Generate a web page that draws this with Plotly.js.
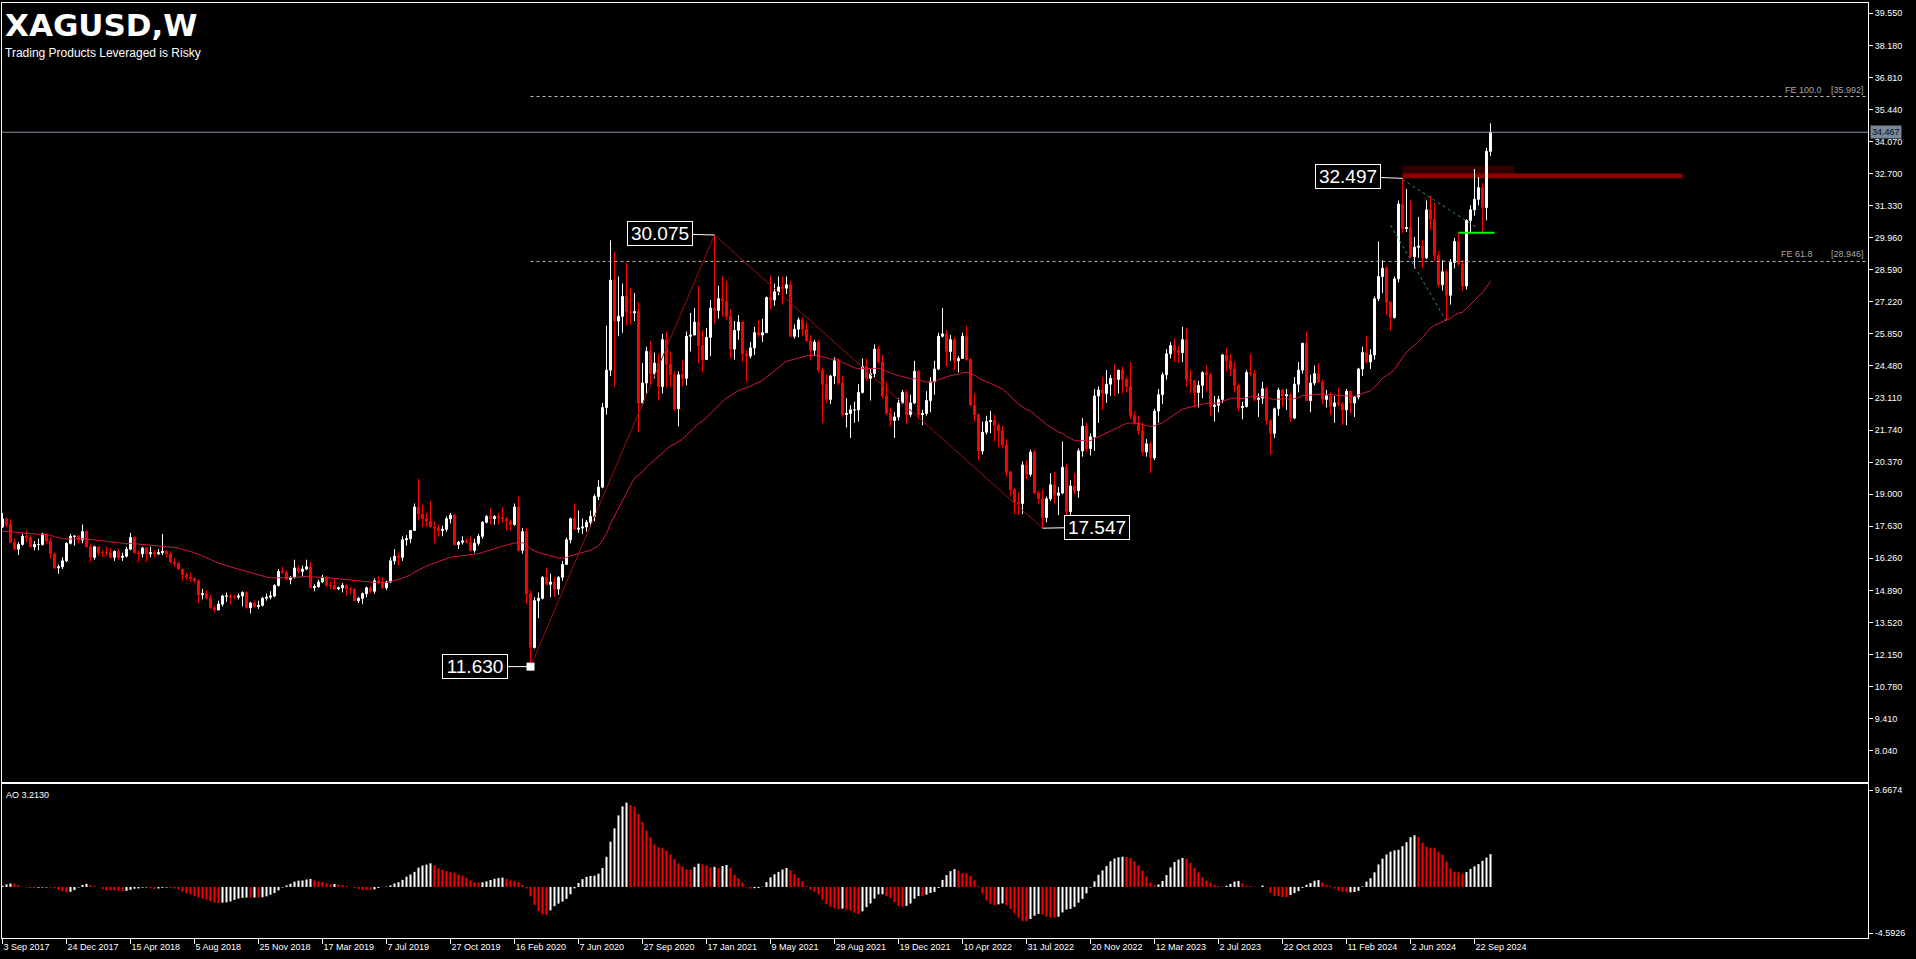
<!DOCTYPE html>
<html><head><meta charset="utf-8">
<script src="https://cdn.plot.ly/plotly-3.0.1.min.js"></script>
<style>html,body{margin:0;padding:0;background:#000;overflow:hidden}#chart{width:1916px;height:959px}</style>
</head><body><div id="chart"></div>
<script>
// ---------------- DATA ----------------
const symbolTitle = "XAGUSD,W";
const subtitleText = "Trading Products Leveraged is Risky";
const tickLabels = ["3 Sep 2017","24 Dec 2017","15 Apr 2018","5 Aug 2018","25 Nov 2018","17 Mar 2019","7 Jul 2019","27 Oct 2019","16 Feb 2020","7 Jun 2020","27 Sep 2020","17 Jan 2021","9 May 2021","29 Aug 2021","19 Dec 2021","10 Apr 2022","31 Jul 2022","20 Nov 2022","12 Mar 2023","2 Jul 2023","22 Oct 2023","11 Feb 2024","2 Jun 2024","22 Sep 2024"];
const weeksPerLabel = 16;

// weekly closes of the 50 weeks before the first visible bar (warm-up for MA / AO)
const preCloses = [19.75,19.15,17.30,17.40,17.50,17.60,18.40,18.30,16.60,16.50,
16.70,16.90,16.00,15.90,15.90,16.50,16.80,16.90,17.20,17.50,
17.60,18.00,18.30,17.70,17.00,17.40,17.60,18.20,18.00,18.50,
17.90,17.80,16.30,16.30,16.90,17.40,17.50,16.90,16.70,16.70,
16.60,15.40,15.90,16.30,16.60,16.20,17.00,17.00,17.00,17.60];

const closes = [
17.95,17.70,16.95,16.65,16.85,17.20,17.15,16.75,16.85,16.85,
17.30,17.00,16.45,15.85,15.90,16.15,16.90,17.20,17.20,17.05,
17.40,16.75,16.30,16.75,16.50,16.50,16.50,16.30,16.55,16.30,
16.35,16.65,17.15,16.50,16.45,16.70,16.45,16.50,16.45,16.50,
16.55,16.45,16.10,16.05,15.80,15.55,15.45,15.40,15.30,14.70,
14.75,14.55,14.15,14.05,14.30,14.65,14.65,14.60,14.60,14.65,
14.80,14.15,14.35,14.20,14.25,14.55,14.60,14.65,15.10,15.70,
15.65,15.35,15.45,15.85,15.70,15.80,15.90,15.00,15.05,15.25,
15.45,15.10,15.10,14.95,15.00,15.10,14.95,14.95,14.45,14.55,
14.75,15.00,14.85,15.30,15.25,15.00,15.25,16.15,16.35,16.30,
17.05,17.10,17.45,18.45,18.15,17.95,17.85,17.60,17.55,17.45,
17.50,17.95,18.10,16.85,16.95,17.00,16.95,16.60,16.90,17.20,
17.80,18.05,17.95,18.05,18.00,17.95,17.85,17.70,18.45,16.60,
17.40,14.75,12.45,14.45,14.55,15.45,15.15,15.25,14.95,15.45,
16.00,17.05,17.95,17.50,17.55,17.60,17.80,18.05,18.90,19.30,
22.70,24.30,28.15,26.40,26.60,27.45,26.80,26.75,26.80,22.90,
23.75,25.10,24.15,24.60,23.60,25.60,24.55,24.10,22.65,24.10,
23.95,25.75,25.80,26.35,25.35,24.75,25.70,26.95,26.85,27.35,
27.25,26.60,25.20,26.00,26.35,25.00,24.90,25.25,25.90,25.80,
25.90,27.40,27.30,27.65,27.85,27.80,27.95,25.75,26.05,26.45,
26.05,25.55,25.15,25.50,24.30,23.70,23.05,24.05,24.70,23.75,
22.40,22.45,22.60,22.60,23.35,24.45,23.95,24.15,25.20,24.65,
23.20,22.45,22.15,22.30,22.90,23.35,22.40,22.90,24.25,22.40,
22.45,23.00,23.80,24.35,25.75,25.85,25.10,25.60,24.70,24.80,
25.75,24.75,22.80,22.40,20.85,21.65,22.10,22.15,21.95,21.70,
21.10,19.95,19.20,18.65,18.60,20.25,19.85,20.80,19.05,18.80,
18.00,18.80,19.40,18.95,19.05,20.15,18.25,19.35,19.15,20.85,
21.90,20.95,21.45,23.20,23.45,23.30,23.70,23.95,23.90,24.30,
23.90,23.60,22.35,22.05,21.70,20.80,21.15,20.55,22.55,23.25,
24.10,25.00,25.35,25.15,25.05,25.60,23.90,23.85,23.35,23.65,
24.20,24.10,22.75,22.80,23.05,24.95,24.70,24.35,23.65,22.70,
22.75,24.20,24.15,23.05,23.10,23.50,22.15,21.60,22.65,23.45,
23.20,23.25,22.25,23.70,24.30,25.45,23.00,23.75,24.15,23.80,
23.05,23.20,22.75,22.90,22.85,22.60,23.40,22.90,23.15,24.35,
25.05,24.65,24.95,27.35,28.30,28.65,27.20,26.55,28.20,31.40,
30.35,30.40,29.15,29.55,29.60,29.10,31.15,30.75,29.20,27.95,
28.50,27.50,28.90,29.80,28.85,27.90,30.70,31.15,31.60,32.10,
31.25,33.65,34.467];

const highs = [
18.20,18.00,17.90,17.10,16.95,17.30,17.45,17.25,17.00,17.10,
17.35,17.25,17.15,16.50,16.00,16.30,16.95,17.30,17.25,17.25,
17.70,17.45,16.90,16.80,16.75,16.60,16.75,16.70,16.60,16.65,
16.50,16.75,17.35,17.20,16.60,16.75,16.75,16.75,16.60,16.65,
17.30,16.60,16.55,16.25,16.10,15.80,15.65,15.65,15.45,15.35,
14.95,14.90,14.70,14.25,14.45,14.70,14.80,14.75,14.70,14.75,
14.85,14.85,14.40,14.45,14.45,14.60,14.75,14.85,15.15,15.80,
15.90,15.75,15.50,16.20,15.95,15.95,16.20,16.10,15.15,15.35,
15.55,15.50,15.25,15.35,15.05,15.20,15.15,15.05,14.95,14.60,
14.80,15.05,15.10,15.40,15.50,15.45,15.30,16.30,16.65,16.50,
17.20,17.25,17.45,18.60,19.65,18.55,18.20,18.70,17.85,17.70,
17.65,18.05,18.20,18.15,17.00,17.20,17.10,17.20,17.10,17.30,
17.85,18.10,18.40,18.10,18.20,18.45,18.00,17.90,18.60,18.90,
17.55,17.55,14.90,14.60,14.80,15.50,15.85,15.60,15.45,15.50,
16.15,17.15,18.00,18.60,18.30,17.95,17.90,18.30,19.00,19.60,
22.90,26.20,29.85,29.35,28.30,28.00,28.90,27.80,27.60,27.20,
24.60,25.30,25.55,25.05,25.00,25.85,25.95,25.10,24.25,24.25,
24.75,25.95,26.75,26.95,27.90,26.00,26.10,27.30,30.075,27.90,
28.30,28.10,26.90,26.40,26.65,26.40,25.15,25.50,26.15,26.45,
26.50,27.45,28.35,28.00,28.30,28.30,28.30,28.10,26.25,26.55,
26.55,26.35,25.80,25.60,25.60,24.40,24.10,24.10,24.85,24.80,
24.05,23.10,22.80,22.95,23.70,24.80,24.80,24.35,25.40,25.35,
24.95,23.80,22.70,22.50,23.10,23.45,23.45,23.25,24.70,24.30,
22.60,23.40,24.00,24.70,25.90,26.95,26.00,25.80,25.70,24.90,
25.90,26.20,24.80,23.30,22.45,22.10,22.35,22.55,22.40,22.05,
21.90,21.35,20.00,19.25,19.10,20.40,20.45,20.90,20.90,19.15,
19.20,18.90,19.90,19.95,19.30,21.25,20.30,19.60,19.90,20.95,
22.25,22.05,21.60,23.50,23.60,24.00,24.30,24.10,24.55,24.30,
24.45,24.00,24.65,22.55,22.35,22.05,21.35,21.25,22.65,23.50,
24.20,25.20,25.50,25.65,25.35,26.15,26.10,24.30,23.85,23.85,
24.25,24.50,24.20,23.20,23.20,25.00,25.25,25.00,24.65,23.75,
22.95,24.30,25.00,24.30,23.30,23.80,23.60,22.20,22.70,23.55,
23.50,23.50,23.30,24.00,24.65,25.45,25.95,24.10,24.50,24.60,
23.90,23.45,23.35,23.20,23.55,22.95,23.50,23.45,23.20,24.40,
25.30,25.75,25.20,27.45,29.80,29.00,28.75,27.25,28.30,31.55,
32.497,32.05,31.55,30.00,30.85,29.85,31.55,31.75,31.45,29.40,
29.00,28.60,29.05,29.95,30.15,29.00,30.75,31.35,32.90,32.55,
32.30,33.80,34.85];

const lows = [
17.55,17.60,16.90,16.60,16.40,16.80,16.95,16.70,16.60,16.60,
16.80,16.85,16.25,15.80,15.60,15.80,16.10,16.85,16.80,16.90,
16.90,16.70,16.10,16.20,16.40,16.30,16.35,16.25,16.15,16.20,
16.15,16.30,16.60,16.45,16.10,16.30,16.10,16.30,16.30,16.40,
16.40,16.30,16.05,15.90,15.75,15.30,15.35,15.25,15.20,14.35,
14.50,14.50,14.10,13.95,14.05,14.20,14.40,14.30,14.50,14.50,
14.20,14.10,13.90,14.15,14.10,14.20,14.45,14.50,14.60,15.05,
15.60,15.35,15.15,15.40,15.60,15.50,15.75,15.00,14.85,15.00,
15.20,15.05,14.95,14.90,14.90,14.80,14.65,14.75,14.45,14.35,
14.30,14.60,14.75,14.75,15.15,14.95,14.90,15.20,16.00,15.95,
16.15,16.80,16.90,17.45,17.90,17.60,17.60,17.60,16.90,17.20,
17.20,17.40,17.75,16.80,16.65,16.85,16.90,16.55,16.50,16.80,
17.10,17.75,17.70,17.70,17.70,17.80,17.45,17.45,17.65,16.55,
16.45,14.30,11.63,12.40,13.70,14.50,15.10,14.60,14.60,14.70,
15.30,16.00,16.90,17.50,17.35,17.30,17.40,17.60,17.85,18.75,
19.25,22.40,24.05,23.60,25.75,25.90,26.20,26.25,26.40,21.65,
22.80,23.30,23.60,23.95,23.00,23.30,23.55,23.60,22.55,21.90,
23.60,23.65,25.10,25.80,24.60,24.20,24.75,24.90,26.30,26.50,
26.60,26.45,24.80,24.75,25.60,24.65,23.80,24.80,24.95,25.70,
25.50,25.90,26.90,27.05,27.50,27.10,27.55,25.70,25.65,25.70,
25.75,25.50,24.75,24.90,24.20,22.05,22.90,22.85,23.70,23.65,
22.30,21.85,21.40,22.05,22.10,23.30,23.85,23.00,24.00,24.55,
23.10,22.40,21.90,21.40,22.15,22.85,22.00,22.30,22.85,22.20,
21.95,22.35,22.50,23.25,24.30,25.70,24.45,24.70,24.30,24.20,
24.80,24.70,22.75,22.10,20.45,20.70,21.55,21.60,21.25,21.00,
20.95,19.75,18.90,18.15,18.10,18.15,19.65,19.75,19.00,18.60,
17.55,17.80,18.70,18.60,18.10,19.00,18.10,18.10,19.00,18.85,
20.60,20.80,20.65,20.85,22.05,22.60,22.90,23.20,23.20,23.30,
23.30,23.35,22.20,21.95,21.55,20.65,20.60,19.90,20.45,22.05,
22.85,23.90,24.80,24.65,24.60,24.65,23.60,23.30,22.70,22.70,
23.10,23.40,22.35,22.10,22.50,22.90,24.25,24.05,23.35,22.55,
22.20,22.70,24.05,22.95,22.30,22.85,21.95,20.70,21.40,22.35,
22.75,22.60,22.10,22.20,23.35,24.15,23.00,22.50,23.65,23.75,
22.85,22.70,22.40,22.05,22.75,21.95,21.95,22.45,22.30,23.05,
24.05,24.60,24.35,24.75,27.25,27.60,26.65,26.00,26.50,28.05,
30.15,30.20,29.10,28.65,29.10,28.65,29.05,30.30,28.95,27.85,
27.70,26.40,27.10,28.65,28.75,27.70,27.75,30.20,30.90,31.35,
30.15,30.70,33.45];

// annotated swing points (bar index, price)
const pivotIdx = [132, 178, 260];
const pivotVal = [11.630, 30.075, 17.547];
const highPivotIdx = 350;
const highPivotVal = 32.497;
// Fibonacci expansion levels
const feNames = ["FE 100.0", "FE 61.8"];
const feValues = [35.992, 28.946];
const lastPrice = 34.467;
const aoText = "AO 3.2130";
const aoAxisVals = [9.6674, -4.5926];
const priceTick0 = 8.04, priceTickStep = 1.37, priceTickCount = 24;
// resistance zone and other drawn objects (price levels)
const zoneLow = 32.497, zoneHigh = 32.70, zoneShadowHigh = 33.03, zoneEndIdx = 420, zoneShadowEndIdx = 378;
const greenLevel = 30.17, greenFromIdx = 364, greenToIdx = 373;
const chan1 = {i0: 350, p0: 32.45, i1: 368.5, p1: 30.40};
const chan2 = {i0: 347, p0: 30.50, i1: 361, p1: 26.37};

// ---------------- GEOMETRY ----------------
const W = 1916, H = 959;
const ML = 2, MR = 48, MT = 3, MB = 21;
const plotW = W - ML - MR, plotH = H - MT - MB;
const pxPerBar = 4;
const xStart = -0.125, xEnd = xStart + plotW / pxPerBar;
const mainBottomPx = 782, aoTopPx = 784;
const yMainRange = [6.70, 39.99];
const aoRange = [-5.091, 10.266];
const px2px = v => (v - ML) / plotW;            // pixel x -> paper
const py2py = v => (MT + plotH - v) / plotH;   // pixel y -> paper

// ---------------- DERIVED ----------------
const n = closes.length;
const idx = closes.map((_, i) => i);
const opens = closes.map((_, i) => i === 0 ? preCloses[preCloses.length - 1] : closes[i - 1]);

// EMA 50 on closes
const allC = preCloses.concat(closes);
const alpha = 2 / 51;
let e = allC[0];
const emaAll = [e];
for (let i = 1; i < allC.length; i++) { e = e + alpha * (allC[i] - e); emaAll.push(e); }
const ema = emaAll.slice(preCloses.length);

// Awesome oscillator
const med = preCloses.concat(highs.map((h, i) => (h + lows[i]) / 2));
const sma = (arr, end, len) => { let s = 0; for (let j = end - len + 1; j <= end; j++) s += arr[j]; return s / len; };
const aoAll = [];
for (let j = 33; j < med.length; j++) aoAll.push({j, v: sma(med, j, 5) - sma(med, j, 34)});
const aoMap = {}; aoAll.forEach(o => aoMap[o.j] = o.v);
const ao = idx.map(i => aoMap[i + preCloses.length]);
const aoColors = idx.map(i => ao[i] > aoMap[i + preCloses.length - 1] ? '#ffffff' : '#ff0000');

const priceTicks = Array.from({length: priceTickCount}, (_, i) => Math.round((priceTick0 + priceTickStep * i) * 1000) / 1000);
const xTickVals = tickLabels.map((_, i) => i * weeksPerLabel);

// ---------------- TRACES ----------------
const traces = [
  {type: 'candlestick', x: idx, open: opens, high: highs, low: lows, close: closes, xaxis: 'x', yaxis: 'y',
   increasing: {line: {color: '#ffffff', width: 1}, fillcolor: '#ffffff'},
   decreasing: {line: {color: '#ff0000', width: 1}, fillcolor: '#ff0000'},
   whiskerwidth: 0, hoverinfo: 'skip', showlegend: false},
  {type: 'scatter', mode: 'lines', x: idx, y: ema, xaxis: 'x', yaxis: 'y',
   line: {color: '#dc143c', width: 1}, hoverinfo: 'skip', showlegend: false},
  {type: 'scatter', mode: 'lines', x: pivotIdx, y: pivotVal, xaxis: 'x', yaxis: 'y',
   line: {color: '#9b0d0d', width: 1}, hoverinfo: 'skip', showlegend: false},
  {type: 'scatter', mode: 'markers', x: [pivotIdx[0]], y: [pivotVal[0]], xaxis: 'x', yaxis: 'y',
   marker: {symbol: 'square', size: 8, color: '#ffffff'}, hoverinfo: 'skip', showlegend: false},
  {type: 'bar', x: idx, y: ao, xaxis: 'x2', yaxis: 'y2', width: 0.5,
   marker: {color: aoColors, line: {width: 0}}, hoverinfo: 'skip', showlegend: false}
];

// ---------------- SHAPES ----------------
const shapes = [
  {type: 'rect', xref: 'x', yref: 'y', x0: highPivotIdx, x1: zoneShadowEndIdx, y0: zoneLow, y1: zoneShadowHigh,
   fillcolor: 'rgba(90,0,0,0.55)', line: {width: 0}, layer: 'below'},
  {type: 'rect', xref: 'x', yref: 'y', x0: highPivotIdx, x1: zoneEndIdx, y0: zoneLow, y1: zoneHigh,
   fillcolor: '#8f0000', line: {width: 0}, layer: 'below'},
  {type: 'line', xref: 'paper', yref: 'y', x0: 0, x1: 1, y0: lastPrice, y1: lastPrice,
   line: {color: '#8795a6', width: 1}},
  {type: 'line', xref: 'x', yref: 'y', x0: greenFromIdx, x1: greenToIdx, y0: greenLevel, y1: greenLevel,
   line: {color: '#00ff00', width: 2}},
  {type: 'line', xref: 'x', yref: 'y', x0: chan1.i0, x1: chan1.i1, y0: chan1.p0, y1: chan1.p1,
   line: {color: '#2a8a8a', width: 1, dash: 'dot'}},
  {type: 'line', xref: 'x', yref: 'y', x0: chan2.i0, x1: chan2.i1, y0: chan2.p0, y1: chan2.p1,
   line: {color: '#2a8a8a', width: 1, dash: 'dot'}}
];
feValues.forEach(v => shapes.push({type: 'line', xref: 'x', yref: 'y', x0: pivotIdx[0], x1: xEnd, y0: v, y1: v,
  line: {color: '#bdbdbd', width: 1, dash: '3px,3px'}}));

// ---------------- ANNOTATIONS ----------------
const labelFont = {family: 'Liberation Sans, Arial, sans-serif', size: 19, color: '#ffffff'};
const boxLabel = (x, y, txt, ax, ay) => ({x, y, xref: 'x', yref: 'y', text: txt, showarrow: true,
  arrowhead: 0, arrowwidth: 1, arrowcolor: '#ffffff', ax, ay, standoff: 0,
  font: labelFont, bgcolor: '#000000', bordercolor: '#ffffff', borderwidth: 1, borderpad: 1, width: 62, height: 21});

const annotations = [
  {xref: 'paper', yref: 'paper', x: px2px(3), y: py2py(5), xanchor: 'left', yanchor: 'top', showarrow: false,
   text: '<b>' + symbolTitle + '</b>', font: {family: 'DejaVu Sans, sans-serif', size: 31, color: '#ffffff'}},
  {xref: 'paper', yref: 'paper', x: px2px(3), y: py2py(53), xanchor: 'left', yanchor: 'middle', showarrow: false,
   text: subtitleText, font: {family: 'Liberation Sans, Arial, sans-serif', size: 12, color: '#ffffff'}},
  {xref: 'paper', yref: 'paper', x: px2px(4), y: py2py(795), xanchor: 'left', yanchor: 'middle', showarrow: false,
   text: aoText, font: {family: 'Liberation Sans, Arial, sans-serif', size: 9, color: '#ffffff'}},
  {xref: 'paper', yref: 'y', x: 1, y: lastPrice, xanchor: 'left', yanchor: 'middle', xshift: 2, showarrow: false,
   text: lastPrice.toFixed(3), bgcolor: '#778899', borderpad: 1,
   font: {family: 'Liberation Sans, Arial, sans-serif', size: 9, color: '#0a0a20'}},
  boxLabel(pivotIdx[0], pivotVal[0], pivotVal[0].toFixed(3), -55.5, 0),
  boxLabel(pivotIdx[1], pivotVal[1], pivotVal[1].toFixed(3), -54.5, -1.5),
  boxLabel(pivotIdx[2], pivotVal[2], pivotVal[2].toFixed(3), 54.5, -1),
  boxLabel(highPivotIdx, highPivotVal, highPivotVal.toFixed(3), -55, -2)
];
const feShift = [-44, -53];
feValues.forEach((v, i) => {
  annotations.push({xref: 'paper', yref: 'y', x: 1, y: v, xanchor: 'right', yanchor: 'bottom', xshift: -2, yshift: 0,
    showarrow: false, text: '[' + v.toFixed(3) + ']', font: {family: 'Liberation Sans, Arial, sans-serif', size: 9, color: '#a8a8a8'}});
  annotations.push({xref: 'paper', yref: 'y', x: 1, y: v, xanchor: 'right', yanchor: 'bottom', xshift: feShift[i], yshift: 0,
    showarrow: false, text: feNames[i], font: {family: 'Liberation Sans, Arial, sans-serif', size: 9, color: '#a8a8a8'}});
});

const tickFont = {family: 'Liberation Sans, Arial, sans-serif', size: 9, color: '#ffffff'};
const layout = {
  width: W, height: H, paper_bgcolor: '#000000', plot_bgcolor: '#000000',
  margin: {l: ML, r: MR, t: MT, b: MB, pad: 0}, showlegend: false, hovermode: false, dragmode: false,
  xaxis: {domain: [0, 1], anchor: 'y', range: [xStart, xEnd], showticklabels: false, ticks: '', showgrid: false,
          zeroline: false, showline: true, mirror: true, linecolor: '#ffffff', linewidth: 1, rangeslider: {visible: false}},
  yaxis: {domain: [(MT + plotH - mainBottomPx) / plotH, 1], anchor: 'x', side: 'right', range: yMainRange,
          tickmode: 'array', tickvals: priceTicks, ticktext: priceTicks.map(v => v.toFixed(3)),
          ticks: 'outside', ticklen: 4, tickcolor: '#ffffff', tickfont: tickFont, showgrid: false, zeroline: false,
          showline: true, mirror: true, linecolor: '#ffffff', linewidth: 1},
  xaxis2: {domain: [0, 1], anchor: 'y2', range: [xStart, xEnd], tickmode: 'array', tickvals: xTickVals, ticktext: tickLabels,
           ticks: 'outside', ticklen: 5, tickcolor: '#ffffff', tickfont: tickFont, ticklabelposition: 'outside right',
           showgrid: false, zeroline: false, showline: true, mirror: true, linecolor: '#ffffff', linewidth: 1},
  yaxis2: {domain: [0, (MT + plotH - aoTopPx) / plotH], anchor: 'x2', side: 'right', range: aoRange,
           tickmode: 'array', tickvals: aoAxisVals, ticktext: aoAxisVals.map(v => v.toFixed(4)),
           ticks: 'outside', ticklen: 4, tickcolor: '#ffffff', tickfont: tickFont, showgrid: false, zeroline: false,
           showline: true, mirror: true, linecolor: '#ffffff', linewidth: 1},
  shapes, annotations
};
if (highs.length !== n || lows.length !== n) {
  layout.annotations.push({xref: 'paper', yref: 'paper', x: 0.5, y: 0.5, showarrow: false,
    text: 'LEN MISMATCH c=' + n + ' h=' + highs.length + ' l=' + lows.length, font: {size: 30, color: 'yellow'}});
}
Plotly.newPlot('chart', traces, layout, {staticPlot: true, displayModeBar: false});
</script></body></html>
